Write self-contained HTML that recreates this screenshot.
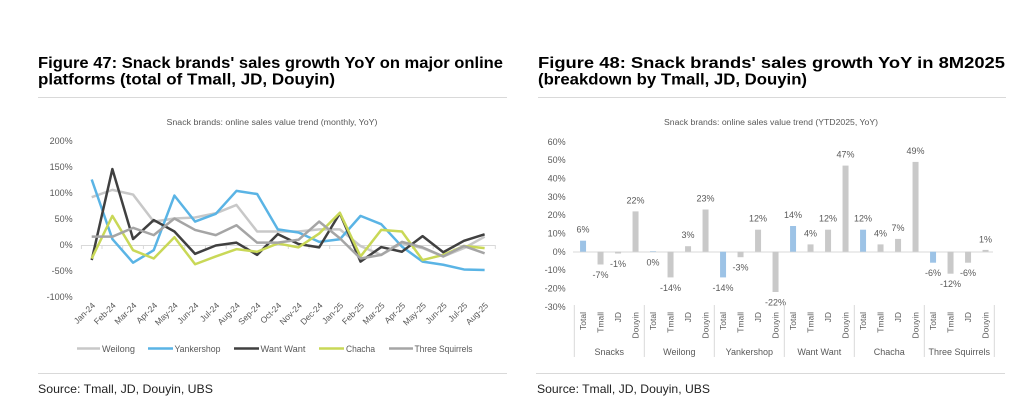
<!DOCTYPE html>
<html>
<head>
<meta charset="utf-8">
<style>
html,body{margin:0;padding:0;background:#fff;}
svg{display:block;}
text{font-family:"Liberation Sans",Arial,sans-serif;}
.t{font-weight:bold;font-size:16px;fill:#000;}
.ax{font-size:9px;fill:#595959;}
.ct{font-size:8px;fill:#595959;}
.src{font-size:12px;fill:#222;}
</style>
</head>
<body>
<svg width="1024" height="420" viewBox="0 0 1024 420" xmlns="http://www.w3.org/2000/svg">
<rect width="1024" height="420" fill="#fff"/>

<!-- Titles -->
<text class="t" x="38" y="68" textLength="465" lengthAdjust="spacingAndGlyphs">Figure 47: Snack brands' sales growth YoY on major online</text>
<text class="t" x="38" y="84.5" textLength="297" lengthAdjust="spacingAndGlyphs">platforms (total of Tmall, JD, Douyin)</text>
<text class="t" x="538" y="68" textLength="467" lengthAdjust="spacingAndGlyphs">Figure 48: Snack brands' sales growth YoY in 8M2025</text>
<text class="t" x="538" y="84.5" textLength="269" lengthAdjust="spacingAndGlyphs">(breakdown by Tmall, JD, Douyin)</text>

<line x1="38" y1="97.5" x2="507" y2="97.5" stroke="#d9d9d9" stroke-width="1"/>
<line x1="538" y1="97.5" x2="1006" y2="97.5" stroke="#d9d9d9" stroke-width="1"/>
<line x1="38" y1="373.5" x2="507" y2="373.5" stroke="#d9d9d9" stroke-width="1"/>
<line x1="536" y1="373.5" x2="1005" y2="373.5" stroke="#d9d9d9" stroke-width="1"/>

<text class="src" x="38" y="393" textLength="175" lengthAdjust="spacingAndGlyphs">Source: Tmall, JD, Douyin, UBS</text>
<text class="src" x="537" y="393" textLength="173" lengthAdjust="spacingAndGlyphs">Source: Tmall, JD, Douyin, UBS</text>

<!-- ============ LEFT CHART ============ -->
<text class="ct" x="272" y="125" text-anchor="middle" textLength="211" lengthAdjust="spacingAndGlyphs">Snack brands: online sales value trend (monthly, YoY)</text>

<g class="ax" text-anchor="end">
<text x="72.7" y="144.2">200%</text>
<text x="72.7" y="170.2">150%</text>
<text x="72.7" y="196.2">100%</text>
<text x="72.7" y="222.2">50%</text>
<text x="72.7" y="248.2">0%</text>
<text x="72.7" y="274.2">-50%</text>
<text x="72.7" y="300.2">-100%</text>
</g>

<line x1="81" y1="245.5" x2="495.5" y2="245.5" stroke="#d9d9d9" stroke-width="1"/>
<g stroke="#d9d9d9" stroke-width="1">
<line x1="81.4" y1="245" x2="81.4" y2="249"/><line x1="102" y1="245" x2="102" y2="249"/><line x1="122.7" y1="245" x2="122.7" y2="249"/><line x1="143.4" y1="245" x2="143.4" y2="249"/><line x1="164.1" y1="245" x2="164.1" y2="249"/><line x1="184.8" y1="245" x2="184.8" y2="249"/><line x1="205.5" y1="245" x2="205.5" y2="249"/><line x1="226.2" y1="245" x2="226.2" y2="249"/><line x1="246.9" y1="245" x2="246.9" y2="249"/><line x1="267.6" y1="245" x2="267.6" y2="249"/><line x1="288.3" y1="245" x2="288.3" y2="249"/><line x1="309" y1="245" x2="309" y2="249"/><line x1="329.7" y1="245" x2="329.7" y2="249"/><line x1="350.4" y1="245" x2="350.4" y2="249"/><line x1="371.1" y1="245" x2="371.1" y2="249"/><line x1="391.8" y1="245" x2="391.8" y2="249"/><line x1="412.5" y1="245" x2="412.5" y2="249"/><line x1="433.2" y1="245" x2="433.2" y2="249"/><line x1="453.9" y1="245" x2="453.9" y2="249"/><line x1="474.6" y1="245" x2="474.6" y2="249"/><line x1="495.3" y1="245" x2="495.3" y2="249"/>
</g>

<g transform="translate(91.7,245) scale(20.68,-0.52)" fill="none" stroke-width="2.5" stroke-linejoin="round">
<polyline vector-effect="non-scaling-stroke" stroke="#c8c8c8" points="0,92 1,106 2,97 3,45 4,51 5,53 6,61 7,77 8,26 9,26 10,26 11,30 12,30 13,-2 14,-19 15,3 16,-6 17,-22 18,-6 19,16"/>
<polyline vector-effect="non-scaling-stroke" stroke="#5ab4e5" points="0,126 1,11.5 2,-34 3,-10 4,95 5,45 6,60 7,104 8,98 9,30 10,24 11,6 12,11 13,56 14,40 15,-3 16,-32 17,-38 18,-47 19,-48"/>
<polyline vector-effect="non-scaling-stroke" stroke="#404040" points="0,-29 1,146 2,11.5 3,48 4,26 5,-17 6,-1 7,4.5 8,-19 9,21 10,2 11,-4.5 12,61 13,-32 14,-4 15,-13 16,17 17,-14 18,8 19,20.5"/>
<polyline vector-effect="non-scaling-stroke" stroke="#c9d857" points="0,-26 1,56 2,-10 3,-26 4,15 5,-37 6,-22 7,-8 8,-13 9,3 10,-4.5 11,22 12,62 13,-22 14,29 15,26 16,-29 17,-19 18,-2 19,-6"/>
<polyline vector-effect="non-scaling-stroke" stroke="#a5a5a5" points="0,16 1,16 2,33 3,19 4,51 5,29 6,19 7,38 8,4.5 9,4.5 10,10 11,45 12,13 13,-26 14,-19 15,6 16,-4.5 17,-22 18,-2 19,-16"/>
</g>

<g class="ax" text-anchor="end" style="font-size:8.5px">
<text transform="translate(95.7,306) rotate(-45)">Jan-24</text>
<text transform="translate(116.4,306) rotate(-45)">Feb-24</text>
<text transform="translate(137.1,306) rotate(-45)">Mar-24</text>
<text transform="translate(157.8,306) rotate(-45)">Apr-24</text>
<text transform="translate(178.4,306) rotate(-45)">May-24</text>
<text transform="translate(199.1,306) rotate(-45)">Jun-24</text>
<text transform="translate(219.8,306) rotate(-45)">Jul-24</text>
<text transform="translate(240.5,306) rotate(-45)">Aug-24</text>
<text transform="translate(261.2,306) rotate(-45)">Sep-24</text>
<text transform="translate(281.8,306) rotate(-45)">Oct-24</text>
<text transform="translate(302.5,306) rotate(-45)">Nov-24</text>
<text transform="translate(323.2,306) rotate(-45)">Dec-24</text>
<text transform="translate(343.9,306) rotate(-45)">Jan-25</text>
<text transform="translate(364.6,306) rotate(-45)">Feb-25</text>
<text transform="translate(385.2,306) rotate(-45)">Mar-25</text>
<text transform="translate(405.9,306) rotate(-45)">Apr-25</text>
<text transform="translate(426.6,306) rotate(-45)">May-25</text>
<text transform="translate(447.3,306) rotate(-45)">Jun-25</text>
<text transform="translate(468,306) rotate(-45)">Jul-25</text>
<text transform="translate(488.7,306) rotate(-45)">Aug-25</text>
</g>

<!-- Legend -->
<g stroke-width="2.5">
<line x1="77" y1="348.5" x2="100" y2="348.5" stroke="#c8c8c8"/>
<line x1="148" y1="348.5" x2="173" y2="348.5" stroke="#5ab4e5"/>
<line x1="234" y1="348.5" x2="259" y2="348.5" stroke="#404040"/>
<line x1="319" y1="348.5" x2="344" y2="348.5" stroke="#c9d857"/>
<line x1="389" y1="348.5" x2="413" y2="348.5" stroke="#a5a5a5"/>
</g>
<g class="ax">
<text x="102" y="351.8" textLength="33" lengthAdjust="spacingAndGlyphs">Weilong</text>
<text x="174.5" y="351.8" textLength="46" lengthAdjust="spacingAndGlyphs">Yankershop</text>
<text x="260.5" y="351.8" textLength="45" lengthAdjust="spacingAndGlyphs">Want Want</text>
<text x="346" y="351.8" textLength="29" lengthAdjust="spacingAndGlyphs">Chacha</text>
<text x="414.5" y="351.8" textLength="58" lengthAdjust="spacingAndGlyphs">Three Squirrels</text>
</g>

<!-- ============ RIGHT CHART ============ -->
<text class="ct" x="771" y="125" text-anchor="middle" textLength="214" lengthAdjust="spacingAndGlyphs">Snack brands: online sales value trend (YTD2025, YoY)</text>

<g class="ax" text-anchor="end">
<text x="565.7" y="144.9">60%</text>
<text x="565.7" y="163.2">50%</text>
<text x="565.7" y="181.6">40%</text>
<text x="565.7" y="199.9">30%</text>
<text x="565.7" y="218.2">20%</text>
<text x="565.7" y="236.6">10%</text>
<text x="565.7" y="254.9">0%</text>
<text x="565.7" y="273.2">-10%</text>
<text x="565.7" y="291.6">-20%</text>
<text x="565.7" y="309.9">-30%</text>
</g>

<line x1="573" y1="252" x2="993" y2="252" stroke="#d9d9d9" stroke-width="1"/>

<g>
<rect x="580.05" y="240.7" width="6" height="11" fill="#9dc3e6"/>
<rect x="597.55" y="251.7" width="6" height="12.8" fill="#c9c9c9"/>
<rect x="615.05" y="251.7" width="6" height="1.8" fill="#c9c9c9"/>
<rect x="632.55" y="211.4" width="6" height="40.3" fill="#c9c9c9"/>
<rect x="650.05" y="251.2" width="6" height="0.5" fill="#9dc3e6"/>
<rect x="667.55" y="251.7" width="6" height="25.7" fill="#c9c9c9"/>
<rect x="685.05" y="246.2" width="6" height="5.5" fill="#c9c9c9"/>
<rect x="702.55" y="209.5" width="6" height="42.2" fill="#c9c9c9"/>
<rect x="720.05" y="251.7" width="6" height="25.7" fill="#9dc3e6"/>
<rect x="737.55" y="251.7" width="6" height="5.5" fill="#c9c9c9"/>
<rect x="755.05" y="229.7" width="6" height="22" fill="#c9c9c9"/>
<rect x="772.55" y="251.7" width="6" height="40.3" fill="#c9c9c9"/>
<rect x="790.05" y="226" width="6" height="25.7" fill="#9dc3e6"/>
<rect x="807.55" y="244.4" width="6" height="7.3" fill="#c9c9c9"/>
<rect x="825.05" y="229.7" width="6" height="22" fill="#c9c9c9"/>
<rect x="842.55" y="165.6" width="6" height="86.1" fill="#c9c9c9"/>
<rect x="860.05" y="229.7" width="6" height="22" fill="#9dc3e6"/>
<rect x="877.55" y="244.4" width="6" height="7.3" fill="#c9c9c9"/>
<rect x="895.05" y="238.9" width="6" height="12.8" fill="#c9c9c9"/>
<rect x="912.55" y="161.9" width="6" height="89.8" fill="#c9c9c9"/>
<rect x="930.05" y="251.7" width="6" height="11" fill="#9dc3e6"/>
<rect x="947.55" y="251.7" width="6" height="22" fill="#c9c9c9"/>
<rect x="965.05" y="251.7" width="6" height="11" fill="#c9c9c9"/>
<rect x="982.55" y="249.9" width="6" height="1.8" fill="#c9c9c9"/>
</g>

<g class="ax" text-anchor="middle">
<text x="583.05" y="232.7">6%</text>
<text x="600.55" y="278">-7%</text>
<text x="618.05" y="267">-1%</text>
<text x="635.55" y="203.4">22%</text>
<text x="653.05" y="265.4">0%</text>
<text x="670.55" y="290.9">-14%</text>
<text x="688.05" y="238.2">3%</text>
<text x="705.55" y="201.5">23%</text>
<text x="723.05" y="290.9">-14%</text>
<text x="740.55" y="270.7">-3%</text>
<text x="758.05" y="221.7">12%</text>
<text x="775.55" y="305.5">-22%</text>
<text x="793.05" y="218">14%</text>
<text x="810.55" y="236.4">4%</text>
<text x="828.05" y="221.7">12%</text>
<text x="845.55" y="157.6">47%</text>
<text x="863.05" y="221.7">12%</text>
<text x="880.55" y="236.4">4%</text>
<text x="898.05" y="230.9">7%</text>
<text x="915.55" y="153.9">49%</text>
<text x="933.05" y="276.2">-6%</text>
<text x="950.55" y="287.2">-12%</text>
<text x="968.05" y="276.2">-6%</text>
<text x="985.55" y="242.5">1%</text>
</g>

<!-- Category separators -->
<g stroke="#d9d9d9" stroke-width="1">
<line x1="574.3" y1="305" x2="574.3" y2="357"/>
<line x1="644.3" y1="305" x2="644.3" y2="357"/>
<line x1="714.3" y1="305" x2="714.3" y2="357"/>
<line x1="784.3" y1="305" x2="784.3" y2="357"/>
<line x1="854.3" y1="305" x2="854.3" y2="357"/>
<line x1="924.3" y1="305" x2="924.3" y2="357"/>
<line x1="994.3" y1="305" x2="994.3" y2="357"/>
</g>

<g class="ax" text-anchor="end" style="font-size:8.5px">
<text transform="translate(586.1,312) rotate(-90)">Total</text>
<text transform="translate(603.6,312) rotate(-90)">Tmall</text>
<text transform="translate(621.1,312) rotate(-90)">JD</text>
<text transform="translate(638.6,312) rotate(-90)">Douyin</text>
<text transform="translate(656.1,312) rotate(-90)">Total</text>
<text transform="translate(673.6,312) rotate(-90)">Tmall</text>
<text transform="translate(691.1,312) rotate(-90)">JD</text>
<text transform="translate(708.6,312) rotate(-90)">Douyin</text>
<text transform="translate(726.1,312) rotate(-90)">Total</text>
<text transform="translate(743.6,312) rotate(-90)">Tmall</text>
<text transform="translate(761.1,312) rotate(-90)">JD</text>
<text transform="translate(778.6,312) rotate(-90)">Douyin</text>
<text transform="translate(796.1,312) rotate(-90)">Total</text>
<text transform="translate(813.6,312) rotate(-90)">Tmall</text>
<text transform="translate(831.1,312) rotate(-90)">JD</text>
<text transform="translate(848.6,312) rotate(-90)">Douyin</text>
<text transform="translate(866.1,312) rotate(-90)">Total</text>
<text transform="translate(883.6,312) rotate(-90)">Tmall</text>
<text transform="translate(901.1,312) rotate(-90)">JD</text>
<text transform="translate(918.6,312) rotate(-90)">Douyin</text>
<text transform="translate(936.1,312) rotate(-90)">Total</text>
<text transform="translate(953.6,312) rotate(-90)">Tmall</text>
<text transform="translate(971.1,312) rotate(-90)">JD</text>
<text transform="translate(988.6,312) rotate(-90)">Douyin</text>
</g>

<g class="ax" text-anchor="middle">
<text x="609.3" y="355">Snacks</text>
<text x="679.3" y="355">Weilong</text>
<text x="749.3" y="355">Yankershop</text>
<text x="819.3" y="355">Want Want</text>
<text x="889.3" y="355">Chacha</text>
<text x="959.3" y="355">Three Squirrels</text>
</g>
</svg>
</body>
</html>
